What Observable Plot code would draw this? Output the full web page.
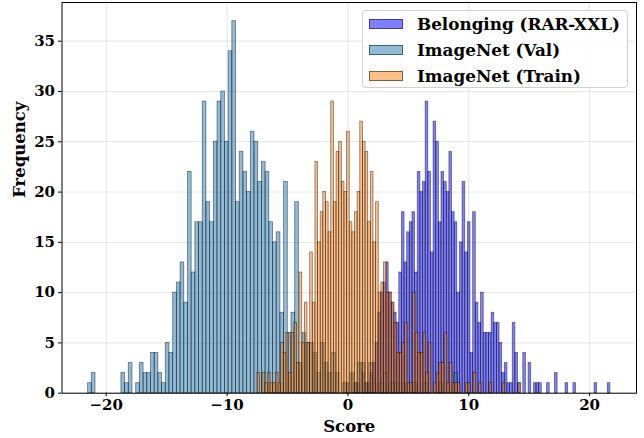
<!DOCTYPE html>
<html>
<head>
<meta charset="utf-8">
<script src="https://cdn.jsdelivr.net/npm/d3@7"></script>
<script src="https://cdn.jsdelivr.net/npm/@observablehq/plot@0.6"></script>
<style>
  html, body { margin: 0; padding: 0; background: #fff; }
  #wrap { position: relative; width: 644px; height: 438px; font-family: "DejaVu Serif", serif; }
  .legend {
    position: absolute; left: 362px; top: 10px; width: 266px; height: 78px;
    border: 1px solid #cfcfcf; border-radius: 4px; background: rgba(255,255,255,0.8);
    box-sizing: border-box;
  }
  .legend .row { position: absolute; left: 0; height: 26px; display: flex; align-items: center; }
  .legend .sw { position: absolute; left: 6px; width: 34px; height: 10px; border: 1px solid rgba(0,0,0,0.5); box-sizing: border-box; }
  .legend .lab { position: absolute; left: 54px; white-space: nowrap; font-weight: bold; font-size: 16.8px; color: #000; }
</style>
</head>
<body>
<div id="wrap"></div>
<script>
// Histogram counts per bin, with the range each histogram spans (100 bins each)
const belongRange = [-0.12, 21.72];
const belongCounts = [
  1,0,0,1,1,0,2,1,1,2,
  3,5,8,10,11,13,10,9,8,7,
  12,18,13,16,17,18,12,22,20,21,
  29,22,14,27,25,17,22,21,20,24,
  18,17,10,15,21,14,17,4,18,9,
  7,10,6,6,6,8,7,7,5,2,
  3,1,1,7,4,1,0,4,0,3,
  0,1,1,1,0,0,1,0,0,2,
  0,0,0,1,0,0,1,0,0,0,
  0,0,0,0,1,0,0,0,0,1
];

const valRange = [-21.50, 9.10];
const valCounts = [
  1,2,0,0,0,0,0,0,0,2,
  1,3,0,1,3,2,2,4,4,2,
  1,5,4,10,11,13,9,22,12,17,
  17,29,19,17,25,29,30,25,34,37,
  19,24,22,20,26,25,21,23,22,17,
  15,16,8,21,6,8,19,3,6,5,
  5,4,2,5,3,2,4,2,0,1,
  0,2,1,3,3,1,3,1,0,1,
  2,0,1,1,0,1,0,0,1,0,
  0,1,0,0,0,1,0,0,0,2
];

const trainRange = [-7.49, 14.34];
const trainCounts = [
  2,0,2,1,2,1,1,2,1,5,
  4,6,2,6,7,3,12,5,9,5,
  14,9,23,15,18,20,19,16,29,19,
  24,25,21,20,26,17,16,18,20,27,
  25,24,17,22,15,19,10,11,13,10,
  10,9,7,4,4,5,7,1,1,10,
  6,4,4,6,2,5,0,1,2,3,
  3,6,1,3,1,1,1,0,0,1,
  1,0,2,0,1,0,0,0,1,0,
  0,0,0,1,0,0,0,0,0,1
];

const seriesNames = ["Belonging (RAR-XXL)", "ImageNet (Val)", "ImageNet (Train)"];
const seriesColors = ["#0000ff", "#1f77b4", "#ff7f0e"];

const xTicks = [-20, -10, 0, 10, 20];
const yTicks = [0, 5, 10, 15, 20, 25, 30, 35];

// Turn a list of bin counts into rectangles spanning [x1, x2)
function binRows(range, counts) {
  const [lo, hi] = range;
  const w = (hi - lo) / counts.length;
  return counts
    .map((c, i) => ({x1: lo + i * w, x2: lo + (i + 1) * w, count: c}))
    .filter(d => d.count > 0);
}

const series = [
  binRows(belongRange, belongCounts),
  binRows(valRange, valCounts),
  binRows(trainRange, trainCounts)
];

// Axis limits with a 5% margin around the data, like matplotlib's defaults
const lo = Math.min(belongRange[0], valRange[0], trainRange[0]);
const hi = Math.max(belongRange[1], valRange[1], trainRange[1]);
const pad = 0.05 * (hi - lo);
const yMax = d3.max([...belongCounts, ...valCounts, ...trainCounts]) * 1.05;

const fmt = d => (d < 0 ? "\u2212" + Math.abs(d) : String(d));

const chart = Plot.plot({
  width: 644,
  height: 438,
  marginLeft: 61.5,
  marginRight: 8,
  marginTop: 2,
  marginBottom: 45.3,
  style: {fontFamily: "DejaVu Serif", fontWeight: "bold", fontSize: "15px", color: "black", background: "white"},
  x: {domain: [lo - pad, hi + pad]},
  y: {domain: [0, yMax]},
  marks: [
    Plot.gridX(xTicks, {stroke: "#dedede", strokeOpacity: 1, strokeWidth: 0.8}),
    Plot.gridY(yTicks, {stroke: "#dedede", strokeOpacity: 1, strokeWidth: 0.8}),
    ...series.map((rows, i) =>
      Plot.rectY(rows, {
        x1: "x1", x2: "x2", y: "count",
        fill: seriesColors[i], fillOpacity: 0.5,
        stroke: "black", strokeOpacity: 0.5, strokeWidth: 0.8
      })
    ),
    Plot.frame({stroke: "black", strokeWidth: 1}),
    Plot.axisX({ticks: xTicks, tickFormat: fmt, tickSize: 3.5, tickPadding: 3, label: null, fontSize: 15}),
    Plot.axisY({ticks: yTicks, tickSize: 3.5, tickPadding: 3.5, label: null, fontSize: 15}),
    Plot.text(["Score"], {text: d => d, frameAnchor: "bottom", dy: 39, fontSize: 16.5, fontWeight: "bold"}),
    Plot.text(["Frequency"], {text: d => d, frameAnchor: "left", dx: -42, rotate: -90, fontSize: 16.5, fontWeight: "bold"})
  ]
});

const wrap = document.getElementById("wrap");
wrap.appendChild(chart);

// Legend box in the upper right of the plot
const legend = document.createElement("div");
legend.className = "legend";
seriesNames.forEach((name, i) => {
  const row = document.createElement("div");
  row.className = "row";
  row.style.top = (i * 26) + "px";
  row.style.width = "100%";
  const sw = document.createElement("div");
  sw.className = "sw";
  sw.style.background = d3.color(seriesColors[i]).copy({opacity: 0.5}).toString();
  const lab = document.createElement("div");
  lab.className = "lab";
  lab.textContent = name;
  row.appendChild(sw);
  row.appendChild(lab);
  legend.appendChild(row);
});
wrap.appendChild(legend);
</script>
</body>
</html>
